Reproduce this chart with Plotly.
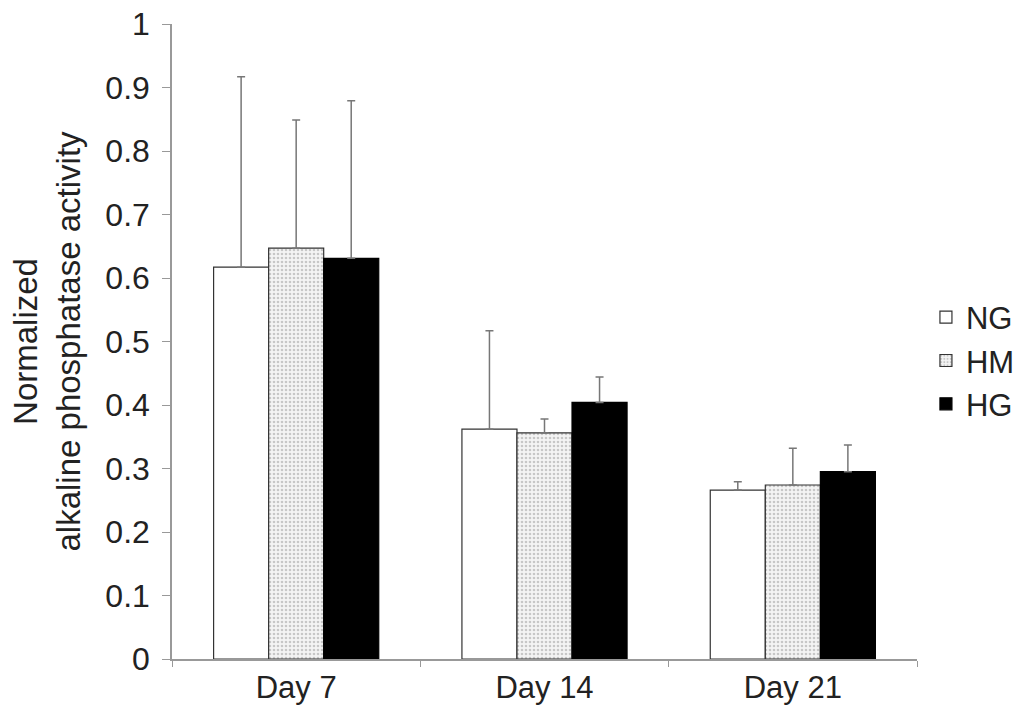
import plotly.graph_objects as go

categories = ["Day 7", "Day 14", "Day 21"]
series_names = ["NG", "HM", "HG"]
ng_values = [0.617, 0.362, 0.266]
hm_values = [0.647, 0.356, 0.274]
hg_values = [0.631, 0.404, 0.295]
ng_err = [0.300, 0.155, 0.013]
hm_err = [0.202, 0.022, 0.058]
hg_err = [0.248, 0.040, 0.042]
y_ticks = [0, 0.1, 0.2, 0.3, 0.4, 0.5, 0.6, 0.7, 0.8, 0.9, 1]
y_tick_labels = ["0", "0.1", "0.2", "0.3", "0.4", "0.5", "0.6", "0.7", "0.8", "0.9", "1"]

FONT = "Liberation Sans, Arial, sans-serif"
FS = 31
err_style = dict(type="data", symmetric=False, color="#777777", thickness=1.5, width=4)

fig = go.Figure()
fig.add_trace(go.Bar(
    name=series_names[0], x=categories, y=ng_values,
    marker=dict(color="white", line=dict(color="#333333", width=1.2)),
    error_y=dict(array=ng_err, arrayminus=[0] * 3, **err_style),
))
fig.add_trace(go.Bar(
    name=series_names[1], x=categories, y=hm_values,
    marker=dict(color="white", line=dict(color="#333333", width=1.2),
                pattern=dict(shape=".", fgcolor="#9a9a9a", bgcolor="#f4f4f4",
                             size=4, solidity=0.35)),
    error_y=dict(array=hm_err, arrayminus=[0] * 3, **err_style),
))
fig.add_trace(go.Bar(
    name=series_names[2], x=categories, y=hg_values,
    marker=dict(color="black", line=dict(color="black", width=1.2)),
    error_y=dict(array=hg_err, arrayminus=[0] * 3, **err_style),
))

fig.update_layout(
    width=1026, height=724,
    paper_bgcolor="white", plot_bgcolor="white",
    barmode="group", bargap=0.335, bargroupgap=0,
    margin=dict(l=172, r=109, t=24, b=65, autoexpand=False),
    font=dict(family=FONT, size=FS, color="#222222"),
    showlegend=True,
    legend=dict(x=1.012, xanchor="left", y=0.47, yanchor="middle",
                font=dict(size=FS), itemwidth=30, tracegroupgap=0,
                bgcolor="rgba(0,0,0,0)"),
    xaxis=dict(showline=True, linecolor="#999999", linewidth=1.5,
               ticks="outside", tickson="boundaries", ticklen=6,
               tickcolor="#999999", showgrid=False,
               tickfont=dict(size=FS)),
    yaxis=dict(range=[0, 1], tickvals=y_ticks, ticktext=y_tick_labels,
               showline=True, linecolor="#999999", linewidth=1.5,
               ticks="outside", ticklen=8, tickcolor="#999999",
               ticklabelstandoff=6, ticklabeloverflow="allow",
               showgrid=False, zeroline=False,
               tickfont=dict(size=32),
               title=dict(text="Normalized<br>alkaline phosphatase activity",
                          font=dict(size=33), standoff=15)),
)

fig.write_html("out.html",
               config={"displayModeBar": False},
               post_script="document.body.style.margin='0';document.body.style.overflow='hidden';")
